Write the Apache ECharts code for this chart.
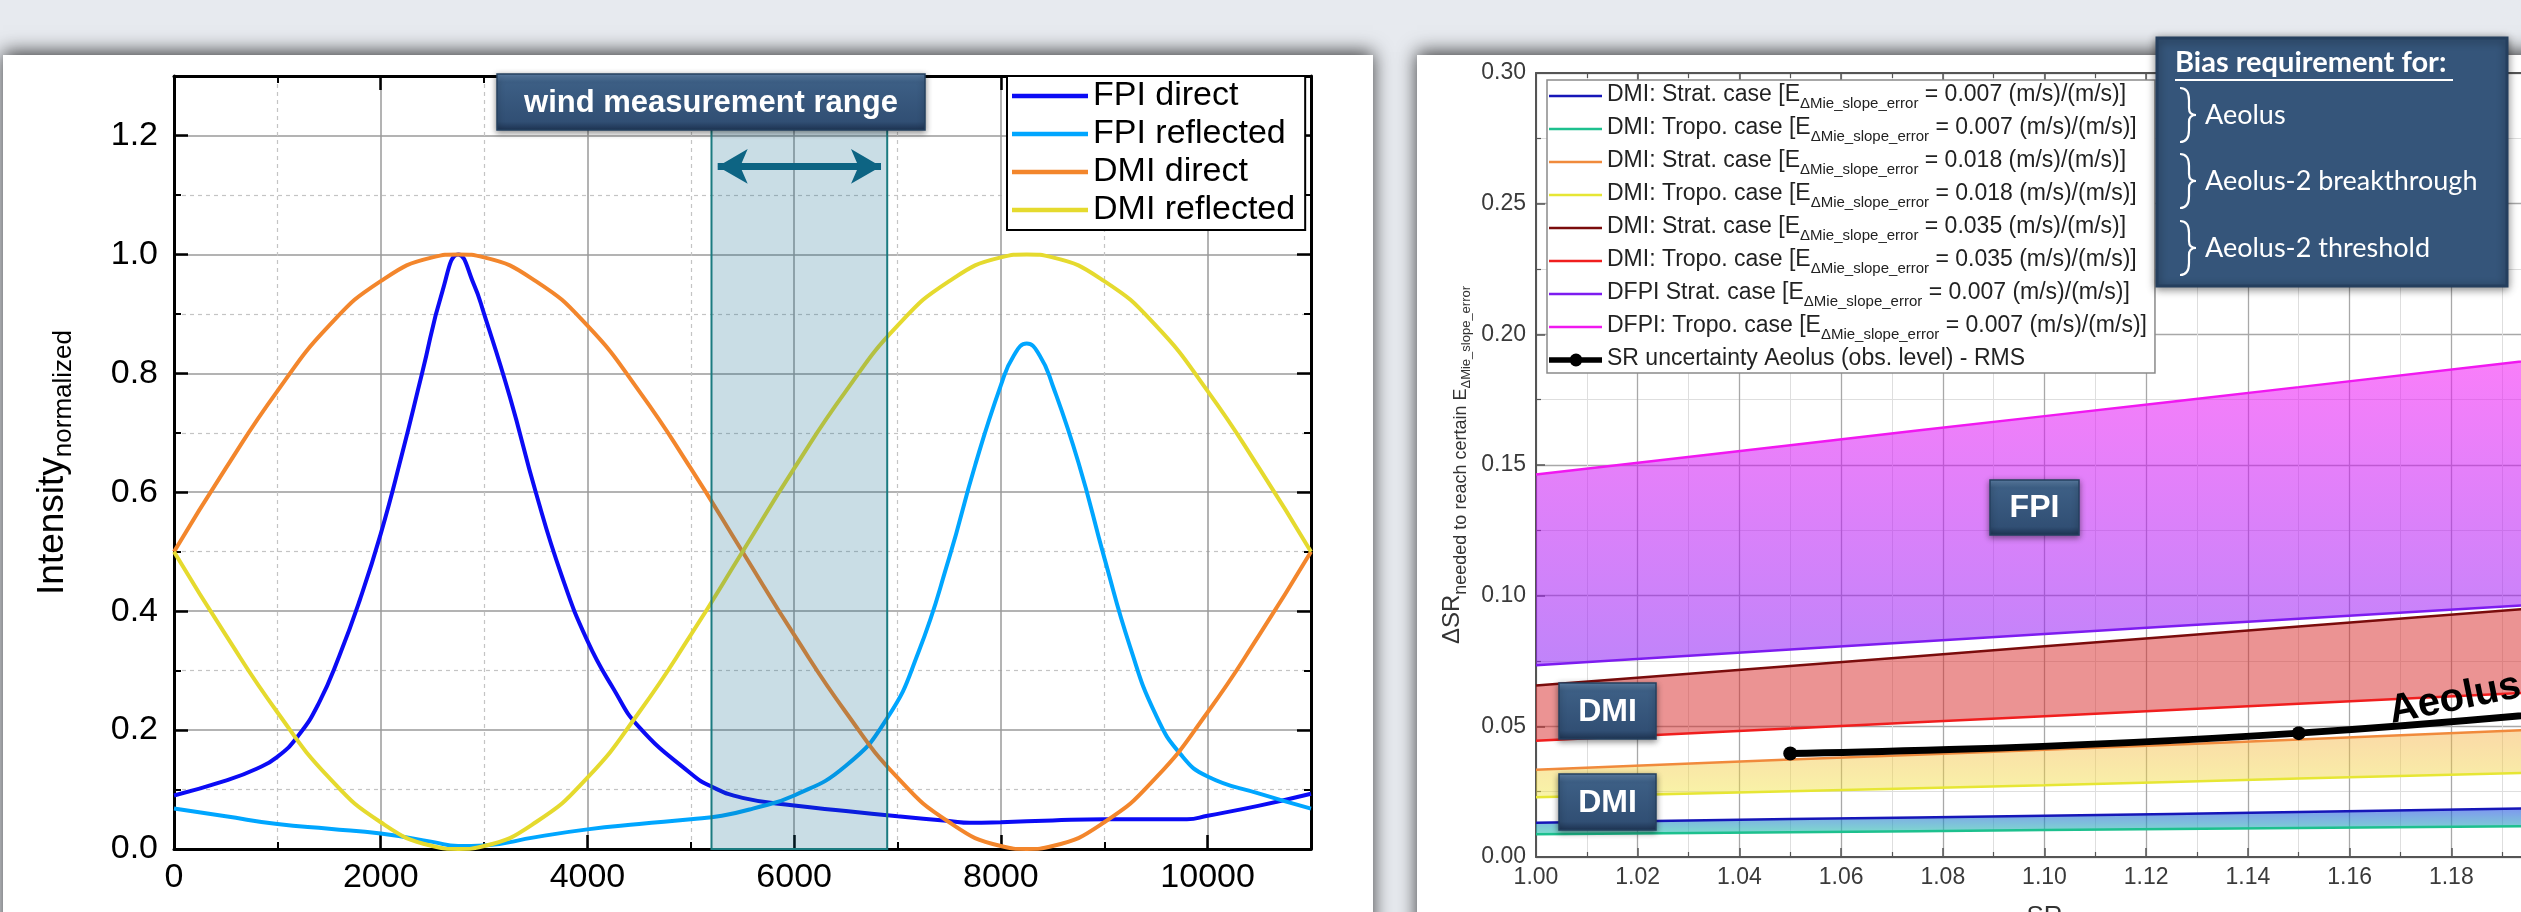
<!DOCTYPE html>
<html>
<head>
<meta charset="utf-8">
<script src="https://cdn.jsdelivr.net/npm/echarts@6/dist/echarts.min.js"></script>
<style>
  html, body { margin: 0; padding: 0; background: #e7eaef; }
  #chart { width: 2521px; height: 912px; }
</style>
</head>
<body>
<div id="chart"></div>
<script>
// ---- left panel: normalized intensity of the four channels ----
const xDmi = [0, 500, 1000, 1500, 2000, 2500, 2750, 3000, 3500, 4000, 4500, 5000, 5500, 6000, 6500, 7000, 7500, 8000, 8250, 8500, 9000, 9500, 10000, 10500, 11000]
const dmiDirect = [0.50, 0.64, 0.77, 0.88, 0.955, 0.995, 1.00, 0.995, 0.955, 0.88, 0.77, 0.64, 0.50, 0.36, 0.23, 0.12, 0.045, 0.005, 0.00, 0.005, 0.045, 0.12, 0.23, 0.36, 0.50]
const dmiReflected = [0.50, 0.36, 0.23, 0.12, 0.045, 0.005, 0.00, 0.005, 0.045, 0.12, 0.23, 0.36, 0.50, 0.64, 0.77, 0.88, 0.955, 0.995, 1.00, 0.995, 0.955, 0.88, 0.77, 0.64, 0.50]

const xFpiDirect = [0, 500, 800, 1000, 1200, 1400, 1600, 1800, 2000, 2200, 2400, 2600, 2750, 2900, 3000, 3250, 3500, 3750, 4000, 4250, 4500, 5000, 5200, 5500, 6000, 6500, 7000, 7500, 7700, 8000, 8500, 9000, 9500, 9800, 10000, 10500, 11000]
const fpiDirect = [0.09, 0.115, 0.135, 0.155, 0.19, 0.245, 0.325, 0.42, 0.53, 0.66, 0.80, 0.94, 1.00, 0.95, 0.90, 0.76, 0.60, 0.46, 0.35, 0.27, 0.205, 0.127, 0.105, 0.086, 0.073, 0.064, 0.055, 0.047, 0.044, 0.045, 0.048, 0.05, 0.05, 0.05, 0.056, 0.073, 0.093]

const xFpiReflected = [0, 500, 1000, 1500, 2000, 2500, 2750, 3000, 3500, 4000, 4500, 5000, 5300, 5600, 6000, 6500, 6900, 7200, 7500, 7750, 8000, 8125, 8250, 8375, 8500, 8750, 9000, 9250, 9500, 9750, 10000, 10500, 11000]
const fpiReflected = [0.068, 0.055, 0.042, 0.034, 0.026, 0.012, 0.005, 0.006, 0.02, 0.033, 0.042, 0.05, 0.056, 0.068, 0.09, 0.14, 0.22, 0.33, 0.49, 0.645, 0.78, 0.83, 0.85, 0.83, 0.78, 0.65, 0.49, 0.34, 0.225, 0.157, 0.122, 0.093, 0.068]

const windRange = [5200, 6900]

// ---- right panel: delta SR needed vs SR ----
const srX = [1.00, 1.05, 1.10, 1.15, 1.20]
const dmiStrat007 = [0.0131, 0.0145, 0.0158, 0.0172, 0.0187]
const dmiTropo007 = [0.0087, 0.0095, 0.0103, 0.0111, 0.0119]
const dmiStrat018 = [0.0334, 0.0373, 0.0410, 0.0450, 0.0490]
const dmiTropo018 = [0.0229, 0.0252, 0.0275, 0.0300, 0.0325]
const dmiStrat035 = [0.0656, 0.0731, 0.0806, 0.0882, 0.0958]
const dmiTropo035 = [0.0445, 0.0492, 0.0539, 0.0586, 0.0633]
const dfpiStrat007 = [0.0734, 0.0794, 0.0853, 0.0912, 0.0970]
const dfpiTropo007 = [0.1464, 0.1576, 0.1687, 0.1798, 0.1910]

const aeolusX = [1.05, 1.15, 1.25]
const aeolusRms = [0.0396, 0.0474, 0.0652]

const leftNames = ['FPI direct', 'FPI reflected', 'DMI direct', 'DMI reflected']
const rightNames = [
  'DMI: Strat. case [E_ΔMie_slope_error = 0.007 (m/s)/(m/s)]',
  'DMI: Tropo. case [E_ΔMie_slope_error = 0.007 (m/s)/(m/s)]',
  'DMI: Strat. case [E_ΔMie_slope_error = 0.018 (m/s)/(m/s)]',
  'DMI: Tropo. case [E_ΔMie_slope_error = 0.018 (m/s)/(m/s)]',
  'DMI: Strat. case [E_ΔMie_slope_error = 0.035 (m/s)/(m/s)]',
  'DMI: Tropo. case [E_ΔMie_slope_error = 0.035 (m/s)/(m/s)]',
  'DFPI Strat. case [E_ΔMie_slope_error = 0.007 (m/s)/(m/s)]',
  'DFPI: Tropo. case [E_ΔMie_slope_error = 0.007 (m/s)/(m/s)]',
  'SR uncertainty Aeolus (obs. level) - RMS'
]
const biasItems = ['Aeolus', 'Aeolus-2 breakthrough', 'Aeolus-2 threshold']

const FONT = '"Liberation Sans", Arial, sans-serif'
const pairs = (xs, ys) => xs.map((x, i) => [x, ys[i]])
const vgrad = (c0, c1) => new echarts.graphic.LinearGradient(0, 0, 0, 1, [{ offset: 0, color: c0 }, { offset: 1, color: c1 }])

// bands between pairs of curves (upper, lower, fill)
const bands = [
  { upper: dmiStrat007, lower: dmiTropo007, fill: vgrad('rgba(40,80,230,0.6)', 'rgba(40,200,170,0.6)') },
  { upper: dmiStrat018, lower: dmiTropo018, fill: vgrad('rgba(245,170,60,0.45)', 'rgba(240,230,60,0.45)') },
  { upper: dmiStrat035, lower: dmiTropo035, fill: 'rgba(215,40,40,0.5)' },
  { upper: dfpiTropo007, lower: dfpiStrat007, fill: vgrad('rgba(245,20,245,0.55)', 'rgba(140,30,245,0.55)') }
]

// legend icons: thin line inside an invisible bounding box
const lineIcon = (w, h, t) => 'path://M0,0h0.01v0.01h-0.01z M0,' + ((h - t) / 2) + 'h' + w + 'v' + t + 'h-' + w + 'z M' + w + ',' + h + 'h-0.01v-0.01h0.01z'
const srIcon = 'path://M0,4.5h53v5.5h-53z M33.5,7.25a6.5,6.5 0 1,1 -13,0a6.5,6.5 0 1,1 13,0z'

const chart = echarts.init(document.getElementById('chart'))

const leftLine = (name, xs, ys, color) => ({
  name, type: 'line', xAxisIndex: 0, yAxisIndex: 0,
  data: pairs(xs, ys), smooth: true, symbol: 'none',
  lineStyle: { color, width: 4 }, itemStyle: { color }, z: 3
})

const rightLine = (name, ys, color) => ({
  name, type: 'line', xAxisIndex: 2, yAxisIndex: 2,
  data: pairs(srX, ys), smooth: true, symbol: 'none',
  lineStyle: { color, width: 2.5 }, itemStyle: { color }, z: 3
})

const bevelBox = (x, y, w, h, text, font) => [
  {
    type: 'rect', z: 100, shape: { x, y, width: w, height: h },
    style: {
      fill: new echarts.graphic.LinearGradient(0, 0, 0, 1, [
        { offset: 0, color: '#6185ad' }, { offset: 0.15, color: '#3d5f85' },
        { offset: 0.84, color: '#314f74' }, { offset: 1, color: '#1e3453' }
      ]),
      stroke: '#24405f', lineWidth: 1.5,
      shadowBlur: 6, shadowColor: 'rgba(0,0,0,0.45)', shadowOffsetY: 2
    }
  },
  {
    type: 'text', z: 101, x: x + w / 2, y: y + h / 2 + 1,
    style: { text, fill: '#fff', font, align: 'center', verticalAlign: 'middle', textAlign: 'center', textVerticalAlign: 'middle' }
  }
]

// curly brace "}" (54px tall) + label inside the bias box
const braceStyle = { stroke: '#fff', lineWidth: 2.2, fill: null }
const braceItem = (cy, text) => {
  const x = 2180, y = cy - 27
  return [
    { type: 'bezierCurve', z: 101, shape: { x1: x, y1: y, cpx1: x + 9, cpy1: y, x2: x + 9, y2: y + 12 }, style: braceStyle },
    { type: 'line', z: 101, shape: { x1: x + 9, y1: y + 12, x2: x + 9, y2: y + 20 }, style: braceStyle },
    { type: 'bezierCurve', z: 101, shape: { x1: x + 9, y1: y + 20, cpx1: x + 9, cpy1: y + 27, x2: x + 16, y2: y + 27 }, style: braceStyle },
    { type: 'bezierCurve', z: 101, shape: { x1: x + 16, y1: y + 27, cpx1: x + 9, cpy1: y + 27, x2: x + 9, y2: y + 34 }, style: braceStyle },
    { type: 'line', z: 101, shape: { x1: x + 9, y1: y + 34, x2: x + 9, y2: y + 42 }, style: braceStyle },
    { type: 'bezierCurve', z: 101, shape: { x1: x + 9, y1: y + 42, cpx1: x + 9, cpy1: y + 54, x2: x, y2: y + 54 }, style: braceStyle },
    { type: 'text', z: 101, x: 2205, y: cy, style: { text, fill: '#fff', font: '27px Lato, "Open Sans", sans-serif', verticalAlign: 'middle', textVerticalAlign: 'middle' } }
  ]
}

const option = {
  animation: false,
  backgroundColor: '#e7eaef',
  grid: [
    { left: 174, top: 76, width: 1137, height: 773, containLabel: false, outerBoundsMode: 'none' },
    { left: 1536, top: 73, width: 1017, height: 784, containLabel: false, outerBoundsMode: 'none' }
  ],
  legend: [
    {
      orient: 'vertical', left: 1007, top: 76,
      data: leftNames.map(name => ({ name, icon: lineIcon(76, 16, 4.5) })),
      backgroundColor: '#fff', borderColor: '#000', borderWidth: 2,
      padding: [3, 10, 3, 5], itemWidth: 76, itemHeight: 16, itemGap: 4,
      textStyle: { fontFamily: FONT, fontSize: 34, color: '#000', lineHeight: 34 }
    },
    {
      orient: 'vertical', left: 1547, top: 80,
      data: rightNames.map((name, i) => ({ name, icon: i === 8 ? srIcon : lineIcon(53, 14, 2.5) })),
      backgroundColor: '#fff', borderColor: '#8a8a8a', borderWidth: 1.5,
      padding: [3, 8, 3, 2], itemWidth: 53, itemHeight: 14, itemGap: 5,
      formatter: name => {
        const k = name.indexOf('E_ΔMie_slope_error')
        if (k < 0) return '{m|' + name + '}'
        return '{m|' + name.slice(0, k) + 'E}{s|ΔMie_slope_error}{m|' + name.slice(k + 18) + '}'
      },
      textStyle: {
        fontFamily: FONT, fontSize: 23, color: '#222',
        rich: {
          m: { fontFamily: FONT, fontSize: 23, color: '#222', lineHeight: 26, verticalAlign: 'top' },
          s: { fontFamily: FONT, fontSize: 15, color: '#222', lineHeight: 15, padding: [13, 0, 0, 0], verticalAlign: 'top' }
        }
      }
    }
  ],
  xAxis: [
    {
      gridIndex: 0, type: 'value', min: 0, max: 11000, interval: 2000,
      axisLine: { onZero: false, lineStyle: { color: '#000', width: 3 } },
      axisTick: { inside: true, length: 14, lineStyle: { color: '#000', width: 2.5 } },
      minorTick: { show: true, splitNumber: 2, length: 7, lineStyle: { color: '#000', width: 2 } },
      axisLabel: { color: '#000', fontFamily: FONT, fontSize: 34, margin: 12, showMaxLabel: false, formatter: v => String(v) },
      splitLine: { show: true, lineStyle: { color: '#9a9a9a', width: 1.5 } },
      minorSplitLine: { show: true, lineStyle: { color: '#c4c4c4', width: 1.2, type: [4, 4] } }
    },
    {
      gridIndex: 0, type: 'value', position: 'top', min: 0, max: 11000, interval: 2000,
      axisLine: { onZero: false, lineStyle: { color: '#000', width: 3 } },
      axisTick: { inside: true, length: 14, lineStyle: { color: '#000', width: 2.5 } },
      minorTick: { show: true, splitNumber: 2, length: 7, lineStyle: { color: '#000', width: 2 } },
      axisLabel: { show: false }, splitLine: { show: false }
    },
    {
      gridIndex: 1, type: 'value', min: 1.0, max: 1.2, interval: 0.02,
      name: 'SR', nameLocation: 'middle', nameGap: 47,
      nameTextStyle: { fontFamily: FONT, fontSize: 26, color: '#333' },
      axisLine: { onZero: false, lineStyle: { color: '#555', width: 2 } },
      axisTick: { inside: true, length: 9, lineStyle: { color: '#555', width: 1.5 } },
      minorTick: { show: true, splitNumber: 2, length: 5, lineStyle: { color: '#555', width: 1.2 } },
      axisLabel: { color: '#3a3a3a', fontFamily: FONT, fontSize: 23, margin: 9, formatter: v => v.toFixed(2) },
      splitLine: { show: true, lineStyle: { color: '#a8a8a8', width: 1.3 } },
      minorSplitLine: { show: true, lineStyle: { color: '#dedede', width: 1 } }
    },
    {
      gridIndex: 1, type: 'value', position: 'top', min: 1.0, max: 1.2, interval: 0.02,
      axisLine: { onZero: false, lineStyle: { color: '#555', width: 2 } },
      axisTick: { inside: true, length: 9, lineStyle: { color: '#555', width: 1.5 } },
      minorTick: { show: true, splitNumber: 2, length: 5, lineStyle: { color: '#555', width: 1.2 } },
      axisLabel: { show: false }, splitLine: { show: false }
    }
  ],
  yAxis: [
    {
      gridIndex: 0, type: 'value', min: 0, max: 1.3, interval: 0.2,
      name: '{a|Intensity}{b|normalized}', nameLocation: 'middle', nameRotate: 90, nameGap: 100,
      nameTextStyle: {
        rich: {
          a: { fontFamily: FONT, fontSize: 37, color: '#000', lineHeight: 40, verticalAlign: 'top' },
          b: { fontFamily: FONT, fontSize: 26, color: '#000', lineHeight: 26, padding: [17, 0, 0, 0], verticalAlign: 'top' }
        }
      },
      axisLine: { onZero: false, lineStyle: { color: '#000', width: 3 } },
      axisTick: { inside: true, length: 14, lineStyle: { color: '#000', width: 2.5 } },
      minorTick: { show: true, splitNumber: 2, length: 7, lineStyle: { color: '#000', width: 2 } },
      axisLabel: { color: '#000', fontFamily: FONT, fontSize: 34, margin: 16, showMaxLabel: false, formatter: v => v.toFixed(1) },
      splitLine: { show: true, lineStyle: { color: '#9a9a9a', width: 1.5 } },
      minorSplitLine: { show: true, lineStyle: { color: '#c4c4c4', width: 1.2, type: [4, 4] } }
    },
    {
      gridIndex: 0, type: 'value', position: 'right', min: 0, max: 1.3, interval: 0.2,
      axisLine: { onZero: false, lineStyle: { color: '#000', width: 3 } },
      axisTick: { inside: true, length: 14, lineStyle: { color: '#000', width: 2.5 } },
      minorTick: { show: true, splitNumber: 2, length: 7, lineStyle: { color: '#000', width: 2 } },
      axisLabel: { show: false }, splitLine: { show: false }
    },
    {
      gridIndex: 1, type: 'value', min: 0, max: 0.3, interval: 0.05,
      name: '{a|ΔSR}{b|needed to reach certain E}{c|ΔMie_slope_error}',
      nameLocation: 'middle', nameRotate: 90, nameGap: 68,
      nameTextStyle: {
        rich: {
          a: { fontFamily: FONT, fontSize: 24, color: '#333', lineHeight: 28, verticalAlign: 'top' },
          b: { fontFamily: FONT, fontSize: 18, color: '#333', lineHeight: 18, padding: [12, 0, 0, 0], verticalAlign: 'top' },
          c: { fontFamily: FONT, fontSize: 13, color: '#333', lineHeight: 13, padding: [20, 0, 0, 0], verticalAlign: 'top' }
        }
      },
      axisLine: { onZero: false, lineStyle: { color: '#555', width: 2 } },
      axisTick: { inside: true, length: 9, lineStyle: { color: '#555', width: 1.5 } },
      minorTick: { show: true, splitNumber: 2, length: 5, lineStyle: { color: '#555', width: 1.2 } },
      axisLabel: { color: '#3a3a3a', fontFamily: FONT, fontSize: 23, margin: 10, formatter: v => v.toFixed(2) },
      splitLine: { show: true, lineStyle: { color: '#a8a8a8', width: 1.3 } },
      minorSplitLine: { show: true, lineStyle: { color: '#dedede', width: 1 } }
    }
  ],
  series: [
    leftLine('FPI direct', xFpiDirect, fpiDirect, '#0b0bf5'),
    leftLine('FPI reflected', xFpiReflected, fpiReflected, '#00a6ff'),
    leftLine('DMI direct', xDmi, dmiDirect, '#f3862c'),
    leftLine('DMI reflected', xDmi, dmiReflected, '#e5da2e'),
    {
      name: 'wind range', type: 'line', xAxisIndex: 0, yAxisIndex: 0, data: [], z: 5,
      markArea: {
        silent: true, z: 5,
        itemStyle: { color: 'rgba(10,100,135,0.22)', borderColor: '#1b7b80', borderWidth: 2 },
        data: [[{ coord: [windRange[0], 0] }, { coord: [windRange[1], 1.22] }]]
      },
      markLine: {
        silent: true, z: 6, symbol: ['arrow', 'arrow'], symbolSize: [26, 30],
        label: { show: false },
        lineStyle: { color: '#0d6483', width: 7, type: 'solid' },
        data: [[{ coord: [windRange[0] + 60, 1.148] }, { coord: [windRange[1] - 60, 1.148] }]]
      }
    },
    {
      type: 'custom', xAxisIndex: 2, yAxisIndex: 2, silent: true, z: 1,
      data: bands.map((b, i) => [srX[0], b.lower[0], i]),
      encode: { x: 0, y: 1 },
      renderItem: (params, api) => {
        const b = bands[params.dataIndex]
        const top = srX.map((x, i) => api.coord([x, b.upper[i]]))
        const bottom = srX.map((x, i) => api.coord([x, b.lower[i]])).reverse()
        return { type: 'polygon', shape: { points: top.concat(bottom) }, style: { fill: b.fill } }
      }
    },
    rightLine(rightNames[0], dmiStrat007, '#1616b8'),
    rightLine(rightNames[1], dmiTropo007, '#1dc08e'),
    rightLine(rightNames[2], dmiStrat018, '#f08a3c'),
    rightLine(rightNames[3], dmiTropo018, '#e6e634'),
    rightLine(rightNames[4], dmiStrat035, '#7a0c0c'),
    rightLine(rightNames[5], dmiTropo035, '#f01e1e'),
    rightLine(rightNames[6], dfpiStrat007, '#7d1cf0'),
    rightLine(rightNames[7], dfpiTropo007, '#f018f0'),
    {
      name: rightNames[8], type: 'line', xAxisIndex: 2, yAxisIndex: 2,
      data: pairs(aeolusX, aeolusRms), smooth: true,
      symbol: 'circle', symbolSize: 14,
      lineStyle: { color: '#000', width: 7 }, itemStyle: { color: '#000' }, z: 4
    }
  ],
  graphic: [
    // slide panels
    {
      type: 'rect', z: -10, shape: { x: 3, y: 55, width: 1370, height: 900 },
      style: { fill: '#fff', shadowBlur: 18, shadowOffsetY: -3, shadowColor: 'rgba(0,0,0,0.75)' }
    },
    {
      type: 'rect', z: -10, shape: { x: 1417, y: 55, width: 1160, height: 900 },
      style: { fill: '#fff', shadowBlur: 18, shadowOffsetY: -3, shadowColor: 'rgba(0,0,0,0.75)' }
    },
    ...bevelBox(497, 74, 428, 56, 'wind measurement range', '700 31px "Liberation Sans", Arial, sans-serif'),
    ...bevelBox(1990, 480, 89, 55, 'FPI', '700 32px "Liberation Sans", Arial, sans-serif'),
    ...bevelBox(1559, 683, 97, 56, 'DMI', '700 32px "Liberation Sans", Arial, sans-serif'),
    ...bevelBox(1559, 774, 97, 56, 'DMI', '700 32px "Liberation Sans", Arial, sans-serif'),
    {
      type: 'rect', z: 99, shape: { x: 2157, y: 38, width: 350, height: 248 },
      style: {
        fill: '#35557a', stroke: '#253f5e', lineWidth: 3,
        shadowBlur: 8, shadowColor: 'rgba(0,0,0,0.45)', shadowOffsetY: 2
      }
    },
    {
      type: 'text', z: 101, x: 2175, y: 63,
      style: { text: 'Bias requirement for:', fill: '#fff', font: '700 29px Lato, "Open Sans", sans-serif', verticalAlign: 'middle', textVerticalAlign: 'middle' }
    },
    { type: 'line', z: 101, shape: { x1: 2175, y1: 80, x2: 2453, y2: 80 }, style: { stroke: '#fff', lineWidth: 2 } },
    ...braceItem(115, biasItems[0]),
    ...braceItem(181, biasItems[1]),
    ...braceItem(248, biasItems[2]),
    {
      type: 'text', z: 100, x: 2455, y: 699, rotation: 0.2,
      style: { text: 'Aeolus', fill: '#000', font: '700 40px "Liberation Sans", Arial, sans-serif', align: 'center', verticalAlign: 'middle', textAlign: 'center', textVerticalAlign: 'middle' }
    }
  ]
}

chart.setOption(option)
</script>
</body>
</html>
